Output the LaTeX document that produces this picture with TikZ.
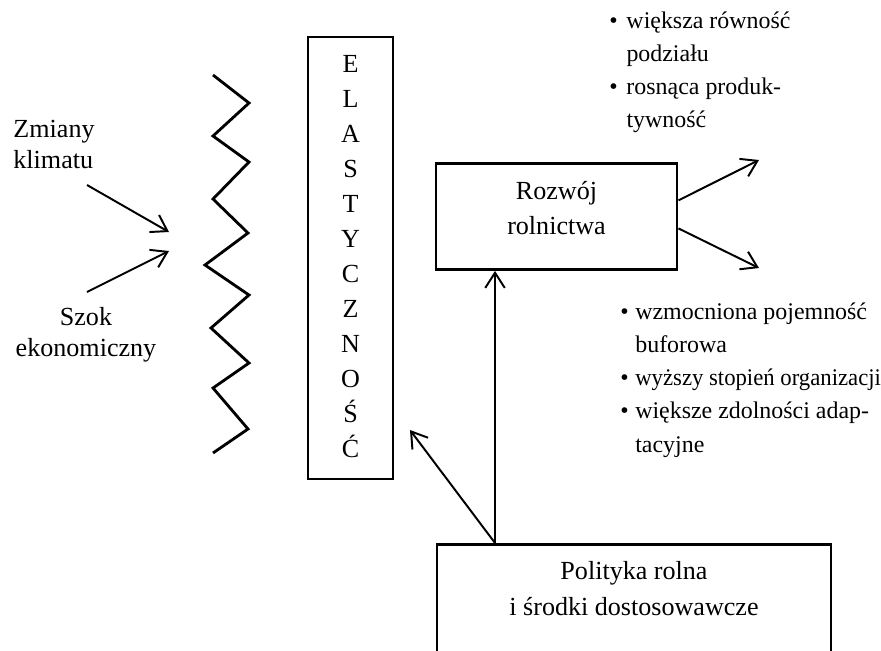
\documentclass[tikz,border=0pt]{standalone}
\usepackage{fontspec}
\usepackage{graphicx}
\setmainfont{Liberation Serif}
\usetikzlibrary{arrows.meta,positioning}
\tikzset{>={Straight Barb[length=7pt,width=9pt]},
         ramka/.style={draw,line width=1.3pt,inner xsep=0pt},
         strz/.style={->,line width=0.9pt},
         duzy/.style={font=\fontsize{12}{#1}\selectfont,inner sep=0pt},
         maly/.style={font=\fontsize{11}{15.3}\selectfont,inner sep=0pt}}

\begin{document}
\begin{tikzpicture}[x=0.46pt,y=-0.46pt]
  \useasboundingbox (0,0) rectangle (881,650);
  \clip (0,0) rectangle (881,650);
  % zaklocenia
  \node[duzy=14.6,anchor=base west] (zmiany) at (13,137)
    {\begin{tabular}[t]{@{}l@{}}Zmiany\\klimatu\end{tabular}};
  \node[duzy=14.7,anchor=base] (szok) at (86,325)
    {\begin{tabular}[t]{@{}c@{}}Szok\\ekonomiczny\end{tabular}};
  \coordinate (zm-a) at (87,185);
  \coordinate (zm-b) at (169,232);
  \coordinate (sz-a) at (87,292);
  \coordinate (sz-b) at (169,251);
  \draw[strz] (zm-a) -- (zm-b);
  \draw[strz] (sz-a) -- (sz-b);
  % bariera
  \draw[line width=1.3pt] (213,75) -- (249,103) -- (213,136) -- (249,162)
    -- (213,199) -- (248,233) -- (205,265) -- (249,295) -- (211,328)
    -- (249,363) -- (213,388) -- (248,429) -- (213,453);
  \node[ramka,duzy=16.1,minimum width=39.1pt,minimum height=203.3pt]
    (elast) at (350.5,258)
    {\begin{tabular}{@{}c@{}}E\\L\\A\\S\\T\\Y\\C\\Z\\N\\O\\Ś\\Ć\end{tabular}};
  % rozwoj
  \node[ramka,duzy=16.1,anchor=north,minimum width=110.9pt,inner ysep=5.3pt]
    (rozwoj) at (556.5,162)
    {\begin{tabular}{@{}c@{}}Rozwój\\rolnictwa\\[6pt]\end{tabular}};
  \coordinate (wy1) at (759,160);
  \coordinate (wy2) at (759,268);
  \draw[strz] ([yshift=7.4pt]rozwoj.east) -- (wy1);
  \draw[strz] ([yshift=-5.5pt]rozwoj.east) -- (wy2);
  \node[maly,anchor=base west] (efekty) at (609,28)
    {\begin{tabular}[t]{@{}l@{\hspace{4pt}}l@{}}
      \textbullet & większa równość\\ & podziału\\
      \textbullet & rosnąca produk-\\ & tywność
    \end{tabular}};
  \node[maly,anchor=base west] (cechy) at (620,319)
    {\begin{tabular}[t]{@{}l@{\hspace{3pt}}l@{}}
      \textbullet & wzmocniona pojemność\\ & buforowa\\
      \textbullet & \scalebox{0.95}[1]{wyższy stopień organizacji}\\
      \textbullet & większe zdolności adap-\\ & tacyjne
    \end{tabular}};
  % polityka
  \node[ramka,duzy=16.6,anchor=north,minimum width=181.2pt,inner ysep=4.5pt]
    (polityka) at (634,543)
    {\begin{tabular}{@{}c@{}}Polityka rolna\\i środki dostosowawcze\\[40pt]\end{tabular}};
  \coordinate (pol-a) at (495,543);
  \coordinate (el-b) at (410,430);
  \draw[strz] (pol-a) -- (pol-a |- rozwoj.south);
  \draw[strz] (pol-a) -- (el-b);
\end{tikzpicture}
\end{document}
